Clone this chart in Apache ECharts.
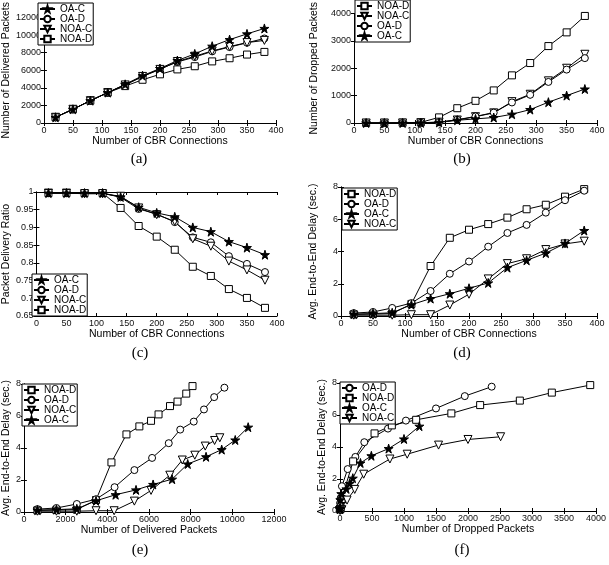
<!DOCTYPE html>
<html><head><meta charset="utf-8">
<script src="https://cdn.jsdelivr.net/npm/echarts@6/dist/echarts.min.js"></script>
<style>html,body{margin:0;padding:0;background:#fff}#c{width:609px;height:565px}</style>
</head><body><div id="c"></div>
<script>
// ---------- DATA ----------
const connections = [20,50,80,110,140,170,200,230,260,290,320,350,380];
const xTicksCBR = [0,50,100,150,200,250,300,350,400];

// (a) Number of delivered packets
const deliveredOAC  = [650,1560,2540,3460,4400,5380,6200,7110,7860,8740,9490,10140,10760];
const deliveredOAD  = [650,1560,2540,3460,4350,5300,6150,6950,7500,8150,8640,9130,9620];
const deliveredNOAC = [650,1560,2540,3460,4330,5300,6100,7000,7600,8200,8700,9150,9400];
const deliveredNOAD = [650,1560,2540,3460,4200,4920,5540,6100,6460,7010,7370,7790,8090];

// (b) Number of dropped packets
const droppedNOAD = [2,3,10,25,205,540,810,1190,1740,2190,2810,3310,3910];
const droppedNOAC = [0,0,2,10,30,110,230,370,780,1050,1540,2000,2510];
const droppedOAD  = [0,0,2,10,30,120,240,380,750,1030,1500,1950,2370];
const droppedOAC  = [0,0,1,5,20,100,150,200,320,490,760,1000,1240];

// (c) Packet delivery ratio
const pdrOAC  = [0.997,0.997,0.997,0.997,0.986,0.957,0.941,0.930,0.900,0.888,0.860,0.843,0.823];
const pdrOAD  = [0.997,0.997,0.997,0.997,0.985,0.952,0.938,0.915,0.872,0.858,0.819,0.797,0.774];
const pdrNOAC = [0.997,0.997,0.995,0.995,0.988,0.955,0.936,0.917,0.868,0.847,0.805,0.780,0.751];
const pdrNOAD = [0.997,0.997,0.997,0.997,0.955,0.904,0.874,0.837,0.789,0.763,0.726,0.701,0.673];

// (d) Avg. end-to-end delay (sec.)
const delayNOAD = [0.10,0.12,0.15,0.75,3.10,4.85,5.35,5.70,6.10,6.62,6.90,7.40,7.87];
const delayOAD  = [0.18,0.25,0.50,0.80,1.55,2.62,3.38,4.30,5.15,5.65,6.41,7.18,7.77];
const delayOAC  = [0.12,0.15,0.20,0.70,1.08,1.38,1.72,2.05,3.00,3.45,3.90,4.50,5.30];
const delayNOAC = [0.05,0.05,0.05,0.08,0.08,0.68,1.35,2.30,3.25,3.55,4.12,4.47,4.64];

const captions = ['(a)','(b)','(c)','(d)','(e)','(f)'];

// ---------- STYLE ----------
const STAR = 'path://M50,0 L61,35 L98,35 L68,57 L79,91 L50,70 L21,91 L32,57 L2,35 L39,35 Z';
const TRI_DOWN = 'path://M0,0 L10,0 L5,9 Z';
const mk = {
  'OA-C':  {symbol: STAR, fill:'#000', size:9},
  'OA-D':  {symbol:'circle', fill:'#fff', size:7},
  'NOA-C': {symbol: TRI_DOWN, fill:'#fff', size:8},
  'NOA-D': {symbol:'rect', fill:'#fff', size:7}
};
const SANS = '"Liberation Sans", Arial, sans-serif';

const zip = (xs, ys) => xs.map((x,i)=>[x, ys[i]]);

const panels = [
  {grid:{left:37,top:0,width:239,height:123},
   x:{min:0,max:400,interval:50,name:'Number of CBR Connections',gap:9},
   y:{min:0,max:12000,interval:2000,name:'Number of Delivered Packets',gap:24},
   legend:{left:38,top:3,order:['OA-C','OA-D','NOA-C','NOA-D']},
   series:{'OA-C':zip(connections,deliveredOAC),'OA-D':zip(connections,deliveredOAD),'NOA-C':zip(connections,deliveredNOAC),'NOA-D':zip(connections,deliveredNOAD)},
   cap:[139,159]},
  {grid:{left:354,top:-2,width:243,height:125},
   x:{min:0,max:400,interval:50,name:'Number of CBR Connections',gap:9},
   y:{min:0,max:4000,interval:1000,name:'Number of Dropped Packets',gap:34},
   legend:{left:355,top:0,order:['NOA-D','NOA-C','OA-D','OA-C']},
   series:{'NOA-D':zip(connections,droppedNOAD),'NOA-C':zip(connections,droppedNOAC),'OA-D':zip(connections,droppedOAD),'OA-C':zip(connections,droppedOAC)},
   cap:[462,159]},
  {grid:{left:31,top:192,width:246,height:124},
   x:{min:0,max:400,interval:50,name:'Number of CBR Connections',gap:10},
   y:{min:0.65,max:1,interval:0.05,name:'Packet Delivery Ratio',gap:20},
   legend:{left:32,top:274,order:['OA-C','OA-D','NOA-C','NOA-D']},
   series:{'OA-C':zip(connections,pdrOAC),'OA-D':zip(connections,pdrOAD),'NOA-C':zip(connections,pdrNOAC),'NOA-D':zip(connections,pdrNOAD)},
   cap:[140,353]},
  {grid:{left:341,top:187,width:256,height:129},
   x:{min:0,max:400,interval:50,name:'Number of CBR Connections',gap:10},
   y:{min:0,max:8,interval:2,name:'Avg. End-to-End Delay (sec.)',gap:22},
   legend:{left:342,top:188,order:['NOA-D','OA-D','OA-C','NOA-C']},
   series:{'NOA-D':zip(connections,delayNOAD),'OA-D':zip(connections,delayOAD),'OA-C':zip(connections,delayOAC),'NOA-C':zip(connections,delayNOAC)},
   cap:[462,353]},
  {grid:{left:21,top:384,width:253,height:128},
   x:{min:0,max:12000,interval:2000,name:'Number of Delivered Packets',gap:10},
   y:{min:0,max:8,interval:2,name:'Avg. End-to-End Delay (sec.)',gap:9},
   legend:{left:22,top:384,order:['NOA-D','OA-D','NOA-C','OA-C']},
   series:{'NOA-D':zip(deliveredNOAD,delayNOAD),'OA-D':zip(deliveredOAD,delayOAD),'NOA-C':zip(deliveredNOAC,delayNOAC),'OA-C':zip(deliveredOAC,delayOAC)},
   cap:[140,550]},
  {grid:{left:340,top:383,width:256,height:128},
   x:{min:0,max:4000,interval:500,name:'Number of Dropped Packets',gap:9},
   y:{min:0,max:8,interval:2,name:'Avg. End-to-End Delay (sec.)',gap:8},
   legend:{left:340,top:382,order:['OA-D','NOA-D','OA-C','NOA-C']},
   series:{'OA-D':zip(droppedOAD,delayOAD),'NOA-D':zip(droppedNOAD,delayNOAD),'OA-C':zip(droppedOAC,delayOAC),'NOA-C':zip(droppedNOAC,delayNOAC)},
   cap:[462,550]}
];

const option = {animation:false, backgroundColor:'#fff', grid:[], xAxis:[], yAxis:[], series:[], legend:[], graphic:[]};
const axLine = {show:true, lineStyle:{color:'#000', width:1}};
const axTick = {show:true, inside:true, length:3, lineStyle:{color:'#000', width:1}};
const fmt = v => String(Math.round(v*1000)/1000);
const lbl = {color:'#111', fontSize:9, fontFamily:SANS, margin:3, hideOverlap:false, formatter:fmt};
const nameStyle = {color:'#000', fontSize:10.5, fontFamily:SANS};

panels.forEach((p, i) => {
  option.grid.push(Object.assign({containLabel:false}, p.grid));
  const xi = option.xAxis.length, yi = option.yAxis.length;
  option.xAxis.push({type:'value', gridIndex:i, min:p.x.min, max:p.x.max, interval:p.x.interval,
    name:p.x.name, nameLocation:'middle', nameGap:p.x.gap, nameTextStyle:nameStyle,
    axisLine:axLine, axisTick:axTick, axisLabel:lbl, splitLine:{show:false}});
  option.xAxis.push({type:'value', gridIndex:i, position:'top', min:p.x.min, max:p.x.max, interval:p.x.interval,
    axisLine:axLine, axisTick:axTick, axisLabel:{show:false}, splitLine:{show:false}});
  option.yAxis.push({type:'value', gridIndex:i, min:p.y.min, max:p.y.max, interval:p.y.interval,
    name:p.y.name, nameLocation:'middle', nameGap:p.y.gap, nameRotate:90, nameTextStyle:nameStyle,
    axisLine:axLine, axisTick:axTick, axisLabel:lbl, splitLine:{show:false}});
  option.yAxis.push({type:'value', gridIndex:i, position:'right', min:p.y.min, max:p.y.max, interval:p.y.interval,
    axisLine:axLine, axisTick:axTick, axisLabel:{show:false}, splitLine:{show:false}});
  Object.keys(p.series).forEach(name => {
    const m = mk[name];
    option.series.push({type:'line', name:name, xAxisIndex:xi, yAxisIndex:yi, data:p.series[name],
      symbol:m.symbol, symbolSize:m.size, showAllSymbol:true,
      itemStyle:{color:m.fill, borderColor:'#000', borderWidth:1},
      lineStyle:{color:'#000', width:1}, z: name==='OA-C'?3:2});
  });
  option.legend.push({data:p.legend.order, left:p.legend.left, top:p.legend.top, orient:'vertical',
    backgroundColor:'#fff', borderColor:'#000', borderWidth:1, padding:[1,1,1,1],
    itemGap:0, itemWidth:15, itemHeight:8, itemTextGap:1, selectedMode:false,
    textStyle:{color:'#000', fontSize:10, fontFamily:SANS, lineHeight:10}});
  option.graphic.push({type:'text', x:p.cap[0], y:p.cap[1],
    style:{text:captions[i], fill:'#000', font:'15px "Liberation Serif", serif', textAlign:'center', textVerticalAlign:'middle'}});
});

const chart = echarts.init(document.getElementById('c'), null, {renderer:'canvas'});
chart.setOption(option);
</script></body></html>
